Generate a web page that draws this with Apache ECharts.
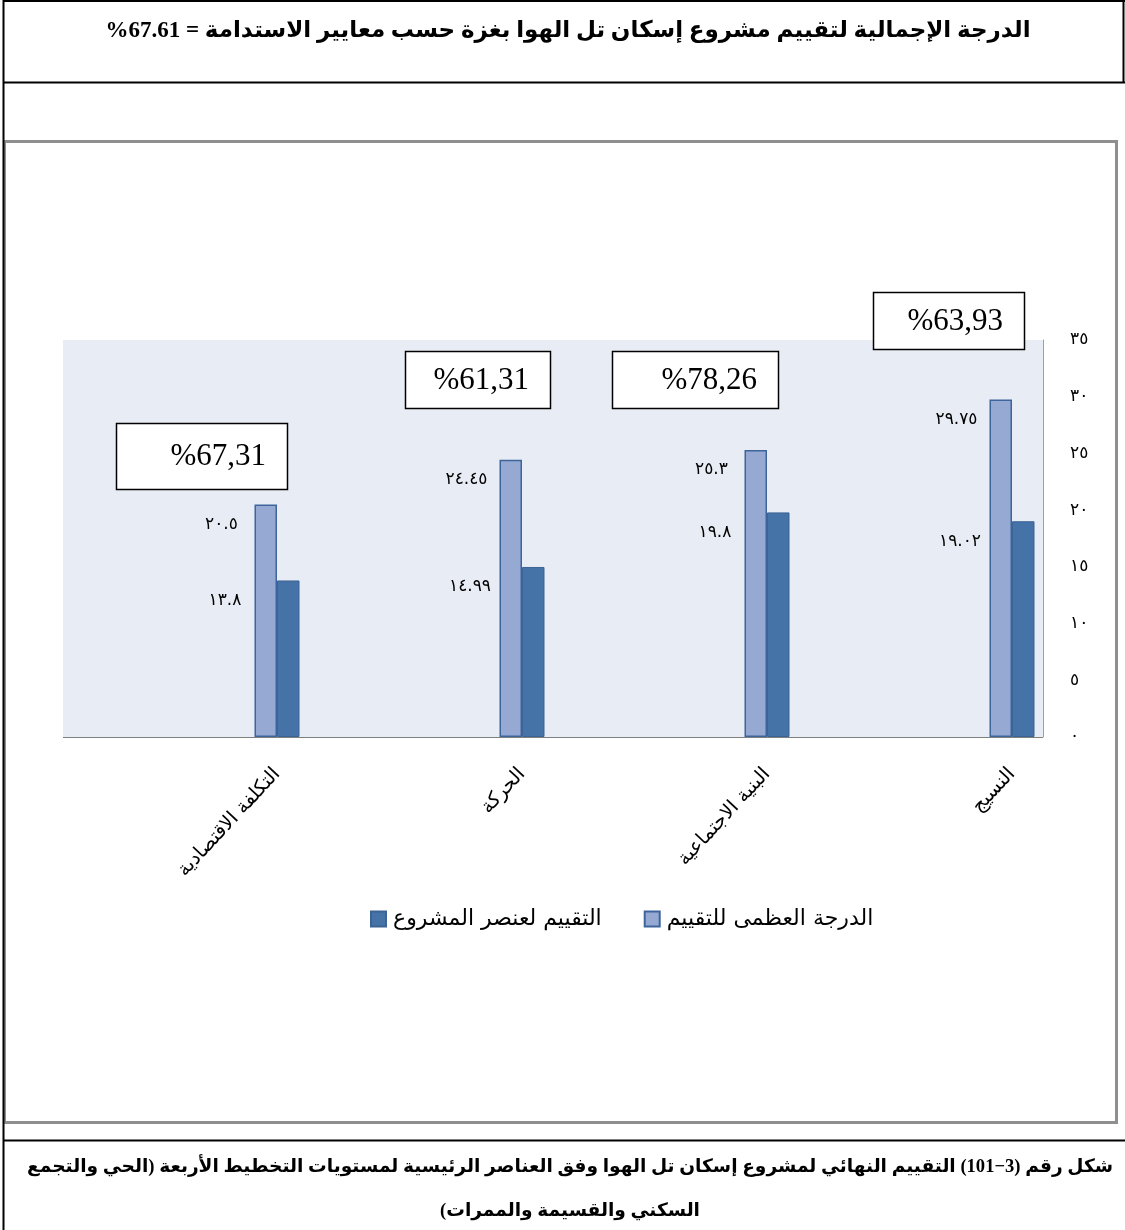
<!DOCTYPE html>
<html>
<head>
<meta charset="utf-8">
<script src="https://cdn.jsdelivr.net/npm/echarts@6/dist/echarts.min.js"></script>
<style>
html,body{margin:0;padding:0;background:#fff;}
#chart{width:1125px;height:1230px;}
</style>
</head>
<body>
<div id="chart" dir="rtl"></div>
<script>
// ---- data ----
const categories = ['التكلفة الاقتصادية', 'الحركة', 'البنية الاجتماعية', 'النسيج'];
const maxScores = [20.5, 24.45, 25.3, 29.75];
const projectScores = [13.8, 14.99, 19.8, 19.02];
const pctLabels = ['%67,31', '%61,31', '%78,26', '%63,93'];
const seriesNames = ['الدرجة العظمى للتقييم', 'التقييم لعنصر المشروع'];
const titleText = 'الدرجة الإجمالية لتقييم مشروع إسكان تل الهوا بغزة حسب معايير الاستدامة = \u202A%67.61\u202C';
const captionLine1 = 'شكل رقم (3−101) التقييم النهائي لمشروع إسكان تل الهوا وفق العناصر الرئيسية لمستويات التخطيط الأربعة (الحي والتجمع';
const captionLine2 = 'السكني والقسيمة والممرات)';

const AR_DIGITS = '٠١٢٣٤٥٦٧٨٩';
function toArabicDigits(v) {
  return String(v).replace(/[0-9]/g, d => AR_DIGITS[+d]);
}

const chart = echarts.init(document.getElementById('chart'), null, {renderer: 'canvas'});

const ARFONT = "'DejaVu Sans'";
const black = '#000';

// percent boxes: [x, y, w, h]
const boxes = [[116, 423, 171, 66], [405, 351, 145, 57], [612, 351, 166, 57], [873, 292, 151, 57]];

const graphics = [
  // plot background
  {type: 'rect', z: -5, shape: {x: 63, y: 340, width: 980, height: 397}, style: {fill: '#E8ECF4'}},
  // baseline
  {type: 'line', z: 5, shape: {x1: 63, y1: 737.5, x2: 1043, y2: 737.5}, style: {stroke: '#7f7f7f', lineWidth: 1}},
  // chart frame (grey)
  {type: 'rect', z: 1, shape: {x: 4.5, y: 141.5, width: 1112, height: 981}, style: {fill: null, stroke: '#8f8f8f', lineWidth: 3}},
  // black table lines
  {type: 'line', z: 2, shape: {x1: 3, y1: 1, x2: 1125, y2: 1}, style: {stroke: black, lineWidth: 2}},
  {type: 'line', z: 2, shape: {x1: 3.5, y1: 0, x2: 3.5, y2: 1230}, style: {stroke: black, lineWidth: 2}},
  {type: 'line', z: 2, shape: {x1: 1123.5, y1: 0, x2: 1123.5, y2: 82}, style: {stroke: black, lineWidth: 2}},
  {type: 'line', z: 2, shape: {x1: 3, y1: 82.5, x2: 1125, y2: 82.5}, style: {stroke: black, lineWidth: 2}},
  {type: 'line', z: 2, shape: {x1: 3, y1: 1140.5, x2: 1125, y2: 1140.5}, style: {stroke: black, lineWidth: 2}},
  // title
  {type: 'text', z: 3, x: 568, y: 31, style: {text: titleText, fill: black, font: "bold 23px 'Liberation Serif', 'DejaVu Sans'", align: 'center', verticalAlign: 'middle'}},
  // caption
  {type: 'text', z: 3, x: 1113, y: 1167, style: {text: captionLine1, fill: black, font: "bold 18.6px 'Liberation Serif', 'DejaVu Sans'", align: 'right', verticalAlign: 'middle'}},
  {type: 'text', z: 3, x: 570, y: 1211, style: {text: captionLine2, fill: black, font: "bold 18.6px 'Liberation Serif', 'DejaVu Sans'", align: 'center', verticalAlign: 'middle'}}
];
pctLabels.forEach((t, i) => {
  const b = boxes[i];
  graphics.push({type: 'rect', z: 6, shape: {x: b[0] + 0.5, y: b[1] + 0.5, width: b[2], height: b[3]}, style: {fill: '#fff', stroke: black, lineWidth: 1.5}});
  graphics.push({type: 'text', z: 7, x: b[0] + b[2] - 21, y: b[1] + b[3] / 2 + 1, style: {text: t, fill: black, font: "31px 'Liberation Serif'", align: 'right', verticalAlign: 'middle'}});
});

const option = {
  animation: false,
  backgroundColor: '#fff',
  textStyle: {fontFamily: ARFONT},
  grid: {left: 154.5, top: 340, width: 980, height: 397, containLabel: false, outerBoundsMode: 'none'},
  legend: {
    data: [seriesNames[1], seriesNames[0]],
    left: 365, top: 903,
    itemWidth: 15, itemHeight: 15, itemGap: 42,
    icon: 'rect',
    textStyle: {fontFamily: ARFONT, fontSize: 22, color: black, padding: [0, 0, 0, 2]}
  },
  xAxis: {
    type: 'category',
    data: categories,
    axisLine: {show: false},
    axisTick: {show: false},
    axisLabel: {rotate: 47, margin: 34, fontSize: 19.5, color: black, fontFamily: ARFONT, interval: 0}
  },
  yAxis: {
    type: 'value',
    position: 'right',
    offset: -91.5,
    min: 0, max: 35, interval: 5,
    axisLine: {show: true, lineStyle: {color: '#a0a0a0', width: 1}},
    axisTick: {show: false},
    splitLine: {show: false},
    axisLabel: {margin: 27, fontSize: 17, color: black, fontFamily: ARFONT, formatter: v => toArabicDigits(v)}
  },
  graphic: {elements: graphics},
  series: [
    {
      name: seriesNames[0], type: 'bar', data: maxScores, barWidth: 22.5, barGap: '0%', z: 3,
      itemStyle: {color: '#95A9D2', borderColor: '#3D659B', borderWidth: 1.5},
      label: {show: true, position: [-33, 20], align: 'center', verticalAlign: 'middle', fontSize: 17, color: black, fontFamily: ARFONT, formatter: p => toArabicDigits(p.value)}
    },
    {
      name: seriesNames[1], type: 'bar', data: projectScores, barWidth: 22.5, barGap: '0%', z: 3,
      itemStyle: {color: '#4572A7', borderColor: '#3B6394', borderWidth: 1},
      label: {show: true, position: [-52, 20], align: 'center', verticalAlign: 'middle', fontSize: 17, color: black, fontFamily: ARFONT, formatter: p => toArabicDigits(p.value)}
    }
  ]
};
chart.setOption(option);
</script>
</body>
</html>
